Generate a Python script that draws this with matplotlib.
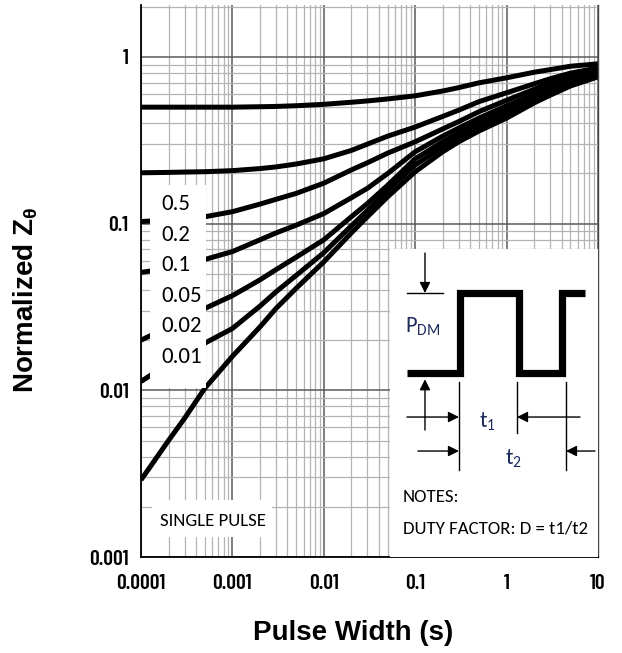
import matplotlib
matplotlib.use("Agg")
import matplotlib.pyplot as plt
from matplotlib import font_manager as fm
from matplotlib.ticker import LogLocator, FixedLocator, FixedFormatter, NullFormatter
from matplotlib.patches import Rectangle

# pulse width (s) and normalized transient thermal impedance per duty factor
pulse_width = [1e-4, 2e-4, 3e-4, 5e-4, 1e-3, 2e-3, 3e-3, 5e-3, 1e-2, 2e-2, 3e-2, 5e-2,
               0.1, 0.2, 0.3, 0.5, 1, 2, 3, 5, 10]
z_d050 = [0.50, 0.50, 0.50, 0.50, 0.50, 0.503, 0.505, 0.51, 0.52, 0.535, 0.545, 0.56,
          0.585, 0.625, 0.655, 0.70, 0.75, 0.81, 0.84, 0.88, 0.91]
z_d020 = [0.202, 0.203, 0.204, 0.205, 0.208, 0.214, 0.219, 0.228, 0.245, 0.275, 0.30, 0.335,
          0.38, 0.44, 0.48, 0.54, 0.61, 0.69, 0.74, 0.80, 0.86]
z_d010 = [0.103, 0.105, 0.107, 0.110, 0.118, 0.131, 0.14, 0.152, 0.175, 0.21, 0.232, 0.265,
          0.31, 0.37, 0.41, 0.47, 0.55, 0.64, 0.70, 0.77, 0.84]
z_d005 = [0.051, 0.054, 0.057, 0.061, 0.068, 0.080, 0.088, 0.098, 0.115, 0.143, 0.163, 0.20,
          0.27, 0.335, 0.375, 0.43, 0.51, 0.60, 0.66, 0.74, 0.82]
z_d002 = [0.020, 0.024, 0.027, 0.031, 0.037, 0.046, 0.053, 0.063, 0.08, 0.11, 0.132, 0.17,
          0.245, 0.31, 0.35, 0.405, 0.48, 0.58, 0.64, 0.72, 0.80]
z_d001 = [0.0113, 0.0145, 0.0167, 0.0192, 0.0235, 0.032, 0.039, 0.049, 0.067, 0.097, 0.12,
          0.158, 0.225, 0.29, 0.33, 0.385, 0.455, 0.55, 0.62, 0.70, 0.78]
z_single = [0.0029, 0.0050, 0.0068, 0.0103, 0.016, 0.024, 0.031, 0.041, 0.059, 0.088, 0.11,
            0.145, 0.205, 0.27, 0.31, 0.36, 0.43, 0.53, 0.59, 0.67, 0.76]

duty_labels = ["0.5", "0.2", "0.1", "0.05", "0.02", "0.01"]
x_ticks = [1e-4, 1e-3, 1e-2, 1e-1, 1, 10]
x_tick_labels = ["0.0001", "0.001", "0.01", "0.1", "1", "10"]
y_ticks = [1e-3, 1e-2, 1e-1, 1]
y_tick_labels = ["0.001", "0.01", "0.1", "1"]


def pick_font(candidates):
    installed = {f.name for f in fm.fontManager.ttflist}
    for cand in candidates:
        if cand in installed:
            return [cand, "DejaVu Sans"]
    return ["DejaVu Sans"]


narrow = pick_font(["Barlow Condensed", "Roboto Condensed", "Liberation Sans Narrow"])
calibri = pick_font(["Carlito", "Roboto Condensed", "Archivo Narrow"])
navy = "#1c2a5c"

fig = plt.figure(figsize=(6.22, 6.53), dpi=100)
ax = fig.add_axes([0.2267, 0.147, 0.7347, 0.8453])
ax.set_xscale("log")
ax.set_yscale("log")
ax.set_xlim(1e-4, 10)
ax.set_ylim(1e-3, 2.05)

for z in [z_d050, z_d020, z_d010, z_d005, z_d002, z_d001, z_single]:
    ax.plot(pulse_width, z, color="black", lw=3.6, solid_capstyle="butt",
            solid_joinstyle="round", zorder=2)

# grid
ax.xaxis.set_major_locator(FixedLocator(x_ticks))
ax.xaxis.set_major_formatter(FixedFormatter(x_tick_labels))
ax.yaxis.set_major_locator(FixedLocator(y_ticks))
ax.yaxis.set_major_formatter(FixedFormatter(y_tick_labels))
ax.xaxis.set_minor_locator(LogLocator(base=10, subs=range(2, 10), numticks=20))
ax.yaxis.set_minor_locator(LogLocator(base=10, subs=range(2, 10), numticks=20))
ax.xaxis.set_minor_formatter(NullFormatter())
ax.yaxis.set_minor_formatter(NullFormatter())
ax.grid(which="major", color="#5a5a5a", lw=1.1)
ax.grid(which="minor", color="#b4b4b4", lw=0.9)
ax.set_axisbelow(True)
ax.tick_params(which="both", length=0)
ax.tick_params(axis="x", pad=12)
ax.tick_params(axis="y", pad=9)
for lab in ax.get_xticklabels() + ax.get_yticklabels():
    lab.set_family(narrow)
    lab.set_fontsize(15.5)
    lab.set_fontweight("semibold")

ax.spines["top"].set_visible(False)
for s in ["left", "bottom"]:
    ax.spines[s].set_color("black")
    ax.spines[s].set_linewidth(1.3)
ax.spines["right"].set_color("#444444")
ax.spines["right"].set_linewidth(1.0)

ax.set_xlabel("Pulse Width (s)", fontsize=20, fontweight="bold", family="Liberation Sans")
ax.set_ylabel(r"Normalized Z$_{\mathregular{\theta}}$", fontsize=20, fontweight="bold",
              family="Liberation Sans")
ax.xaxis.set_label_coords(0.464, -0.115)
ax.yaxis.set_label_coords(-0.222, 0.466)

T = ax.transAxes

# white legend box with duty factor labels
ax.add_patch(Rectangle((0.0197, 0.306), 0.1225, 0.368, transform=T, facecolor="white",
                       edgecolor="none", zorder=4))
for i, lab in enumerate(duty_labels):
    ax.text(0.0438, 0.6395 - i * 0.0554, lab, transform=T, family=calibri, fontsize=16.5,
            ha="left", va="center", zorder=5)

# single pulse label
ax.add_patch(Rectangle((0.024, 0.036), 0.263, 0.067, transform=T, facecolor="white",
                       edgecolor="none", zorder=4))
ax.text(0.1575, 0.0652, "SINGLE PULSE", transform=T, family=calibri, fontsize=13.5,
        ha="center", va="center", zorder=5)

# inset with pulse diagram
ax.add_patch(Rectangle((0.545, 0.0), 0.455, 0.558, transform=T, facecolor="white",
                       edgecolor="none", zorder=4))
wx = [0.582, 0.698, 0.698, 0.827, 0.827, 0.921, 0.921, 0.972]
wy = [0.3333, 0.3333, 0.4783, 0.4783, 0.3333, 0.3333, 0.4783, 0.4783]
ax.plot(wx, wy, transform=T, color="black", lw=5.2, solid_joinstyle="miter",
        solid_capstyle="butt", zorder=5, clip_on=False)

thin = dict(color="black", lw=1.0, zorder=5)
ax.plot([0.582, 0.661], [0.4783, 0.4783], transform=T, **thin)
for x0, y1 in [(0.6958, 0.1576), (0.8228, 0.2246), (0.930, 0.1576)]:
    ax.plot([x0, x0], [0.317, y1], transform=T, **thin)

arrow = dict(arrowstyle="-|>", color="black", lw=1.0, mutation_scale=16, shrinkA=0, shrinkB=0)
ax.annotate("", xy=(0.6214, 0.4783), xytext=(0.6214, 0.5507), xycoords=T, textcoords=T,
            arrowprops=arrow, zorder=6)
ax.annotate("", xy=(0.6214, 0.322), xytext=(0.6214, 0.230), xycoords=T, textcoords=T,
            arrowprops=arrow, zorder=6)
ax.annotate("", xy=(0.6958, 0.2536), xytext=(0.582, 0.2536), xycoords=T, textcoords=T,
            arrowprops=arrow, zorder=6)
ax.annotate("", xy=(0.8228, 0.2536), xytext=(0.9606, 0.2536), xycoords=T, textcoords=T,
            arrowprops=arrow, zorder=6)
ax.annotate("", xy=(0.6958, 0.192), xytext=(0.606, 0.192), xycoords=T, textcoords=T,
            arrowprops=arrow, zorder=6)
ax.annotate("", xy=(0.930, 0.192), xytext=(0.9934, 0.192), xycoords=T, textcoords=T,
            arrowprops=arrow, zorder=6)

ax.text(0.617, 0.4167, r"P$_{\mathregular{DM}}$", transform=T, family=calibri, fontsize=16,
        color=navy, ha="center", va="center", zorder=6)
ax.text(0.759, 0.2446, r"t$_{\mathregular{1}}$", transform=T, family=calibri, fontsize=16,
        color=navy, ha="center", va="center", zorder=6)
ax.text(0.814, 0.179, r"t$_{\mathregular{2}}$", transform=T, family=calibri, fontsize=16,
        color=navy, ha="center", va="center", zorder=6)
ax.text(0.573, 0.1087, "NOTES:", transform=T, family=calibri, fontsize=13.5,
        ha="left", va="center", zorder=6)
ax.text(0.573, 0.0525, "DUTY FACTOR: D = t1/t2", transform=T, family=calibri, fontsize=13.5,
        ha="left", va="center", zorder=6)

fig.savefig("out.png", dpi=100)
